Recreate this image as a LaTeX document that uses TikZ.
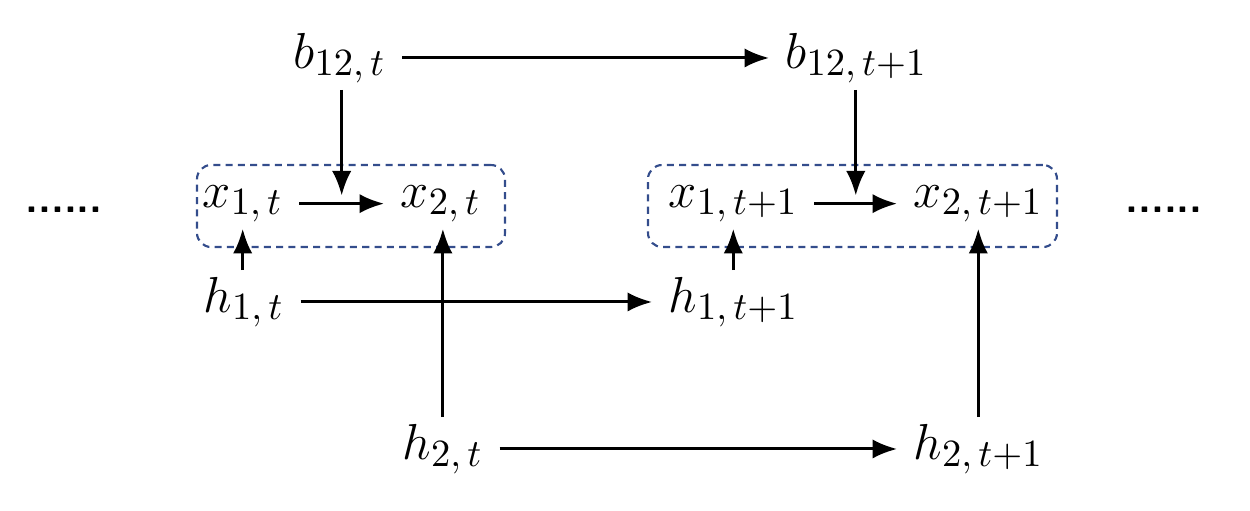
\documentclass[tikz,border=0pt]{standalone}
\usepackage{amsmath,amssymb}
\usepackage{tikz}
\usetikzlibrary{arrows.meta,positioning,calc}
\usepackage{xcolor}
\definecolor{grpblue}{RGB}{52,77,140}
\DeclareMathSizes{15.5}{15.5}{10.8}{8}

\begin{document}
\begin{tikzpicture}[
  every node/.style={font=\fontsize{15.5pt}{19pt}\selectfont,
    inner xsep=4.5pt, inner ysep=1.7pt},
  var/.style={anchor=base west},
  arr/.style={-{Latex[length=7pt,width=5.5pt]}, line width=0.85pt},
  grp/.style={draw=grpblue, dash pattern=on 2pt off 1.5pt,
    line width=0.6pt, rounded corners=4pt, inner sep=0pt}]
  \useasboundingbox (0,0) rectangle (12.5,-5.1);
  % states at t and t+1
  \node[var] (b12t) at (2.771,-0.68) {$b_{12,\,t}$};
  \node[var] (b12t1) at (7.691,-0.68) {$b_{12,\,t+1}$};
  \node[var] (x1t) at (1.861,-2.07) {$x_{1,\,t}$};
  \node[var] (x2t) at (3.841,-2.07) {$x_{2,\,t}$};
  \node[var] (x1t1) at (6.521,-2.07) {$x_{1,\,t+1}$};
  \node[var] (x2t1) at (8.971,-2.07) {$x_{2,\,t+1}$};
  \node[var] (h1t) at (1.871,-3.12) {$h_{1,\,t}$};
  \node[var] (h1t1) at (6.521,-3.12) {$h_{1,\,t+1}$};
  \node[var] (h2t) at (3.861,-4.59) {$h_{2,\,t}$};
  \node[var] (h2t1) at (8.971,-4.59) {$h_{2,\,t+1}$};
  \node[font=\sffamily\bfseries\large] (dotsl) at (0.64,-2.1) {......};
  \node[font=\sffamily\bfseries\large] (dotsr) at (11.64,-2.1) {......};
  % observation groups
  \node[grp, minimum width=3.08cm, minimum height=0.82cm] (g1) at (3.51,-2.06) {};
  \node[grp, minimum width=4.09cm, minimum height=0.82cm] (g2) at (8.525,-2.06) {};
  % transitions
  \draw[arr] (b12t) -- (b12t1);
  \draw[arr] (h1t) -- (h1t1);
  \draw[arr] (h2t) -- (h2t1);
  \draw[arr] (x1t) -- coordinate[pos=0.5,yshift=2.3pt] (m1) (x2t);
  \draw[arr] (x1t1) -- coordinate[pos=0.5,yshift=2.3pt] (m2) (x2t1);
  \draw[arr] (b12t.south -| m1) -- (m1);
  \draw[arr] (b12t1.south -| m2) -- (m2);
  \draw[arr] (h1t.north -| x1t) -- (x1t.south);
  \draw[arr] (h1t1.north -| x1t1) -- (x1t1.south);
  \draw[arr] (h2t.north) -- (h2t |- x2t.south);
  \draw[arr] (h2t1.north -| x2t1) -- (x2t1.south);
\end{tikzpicture}
\end{document}
